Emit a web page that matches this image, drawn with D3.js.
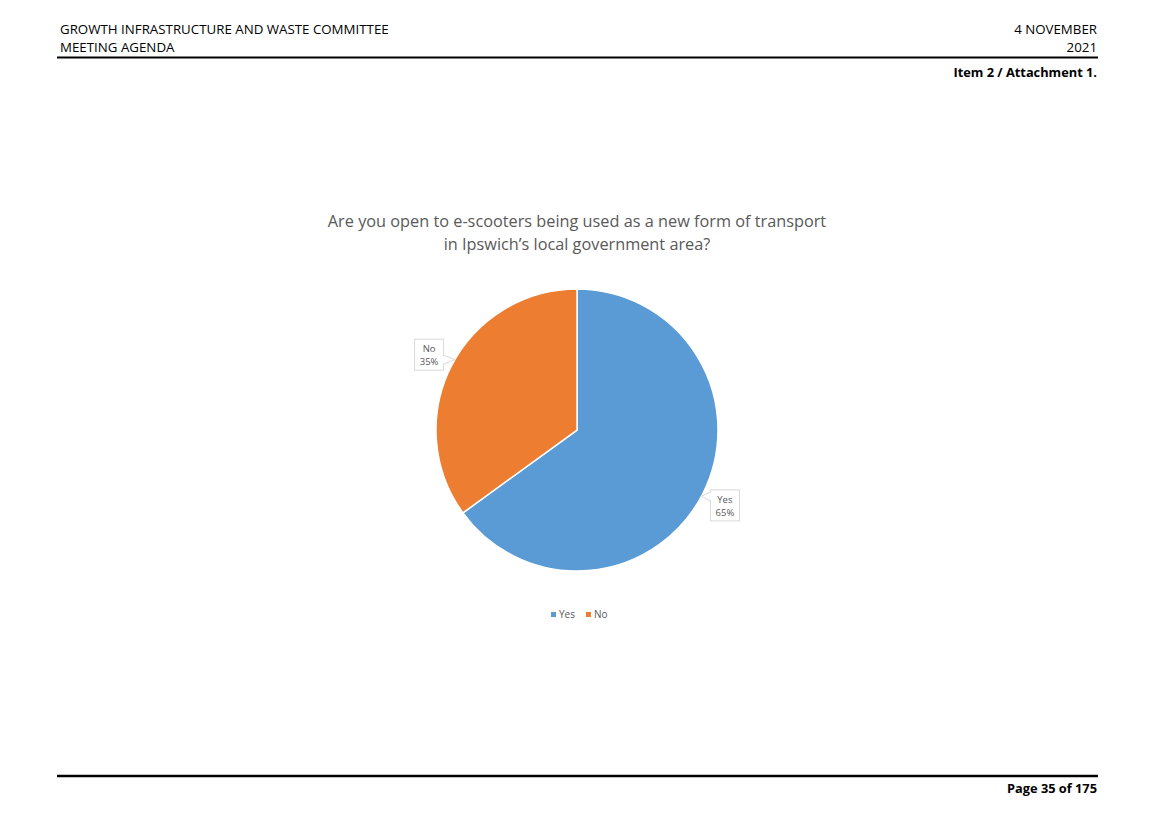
<!DOCTYPE html>
<html>
<head>
<meta charset="utf-8">
<script src="https://d3js.org/d3.v7.min.js"></script>
<style>
  body { margin: 0; background: #fff; }
  text { font-family: "Open Sans", "Liberation Sans", sans-serif; }
</style>
</head>
<body>
<script>
// Data
const categories = ["Yes", "No"];
const shares = [65, 35];
const colors = ["#5b9bd5", "#ed7d31"];

const title = ["Are you open to e-scooters being used as a new form of transport",
               "in Ipswich\u2019s local government area?"];

const width = 1155, height = 816;

const svg = d3.select("body").append("svg")
    .attr("width", width)
    .attr("height", height);

// Page header
svg.append("text").attr("x", 60).attr("y", 34).attr("font-size", 13.3).attr("fill", "#000")
    .text("GROWTH INFRASTRUCTURE AND WASTE COMMITTEE");
svg.append("text").attr("x", 60).attr("y", 52).attr("font-size", 13.3).attr("fill", "#000")
    .text("MEETING AGENDA");
svg.append("text").attr("x", 1097).attr("y", 34).attr("font-size", 13.3).attr("text-anchor", "end")
    .text("4 NOVEMBER");
svg.append("text").attr("x", 1097).attr("y", 52).attr("font-size", 13.3).attr("text-anchor", "end")
    .text("2021");
svg.append("line").attr("x1", 57).attr("x2", 1098).attr("y1", 57.5).attr("y2", 57.5)
    .attr("stroke", "#000").attr("stroke-width", 2);
svg.append("text").attr("x", 1097).attr("y", 77).attr("font-size", 12.8).attr("font-weight", "bold")
    .attr("text-anchor", "end").text("Item 2 / Attachment 1.");

// Footer
svg.append("line").attr("x1", 57).attr("x2", 1098).attr("y1", 776).attr("y2", 776)
    .attr("stroke", "#000").attr("stroke-width", 2.5);
svg.append("text").attr("x", 1097).attr("y", 793).attr("font-size", 12.8).attr("font-weight", "bold")
    .attr("text-anchor", "end").text("Page 35 of 175");

// Chart title
svg.append("g").selectAll("text")
    .data(title).enter()
    .append("text")
    .attr("x", 577)
    .attr("y", (d, i) => 227 + i * 23)
    .attr("text-anchor", "middle")
    .attr("font-size", 16.3)
    .attr("fill", "#595959")
    .text(d => d);

// Pie
const cx = 577, cy = 430, radius = 141;
const data = categories.map((c, i) => ({ name: c, value: shares[i], color: colors[i] }));

const pie = d3.pie().sort(null).value(d => d.value);
const arc = d3.arc().innerRadius(0).outerRadius(radius);
const arcs = pie(data);

let plot = svg.append("g").attr("transform", "translate(" + cx + "," + cy + ")");

plot.selectAll("path")
    .data(arcs).enter()
    .append("path")
    .attr("d", arc)
    .attr("fill", d => d.data.color)
    .attr("stroke", "#fff")
    .attr("stroke-width", 1.5);

// Data callouts along the slice middle, just outside the pie
const labelArc = d3.arc().innerRadius(radius + 25).outerRadius(radius + 25);
const boxW = 29, boxH = 31;

arcs.forEach(d => {
    const [bx, by] = labelArc.centroid(d);
    const left = bx < 0;
    const x0 = bx - boxW / 2;
    const y0 = by - boxH / 2;
    const g = plot.append("g");
    // pointer on the side facing the pie, tip touching the pie edge
    const px = left ? x0 + boxW : x0;
    const pyA = by < 0 ? y0 + boxH - 15 : y0 + 2;
    const pyB = pyA + 9;
    const ty = (pyA + pyB) / 2;
    const tx = (left ? -1 : 1) * Math.sqrt(radius * radius - ty * ty);
    g.append("path")
        .attr("d", "M" + px + "," + pyA + "L" + tx + "," + ty + "L" + px + "," + pyB + "Z")
        .attr("fill", "#fff").attr("stroke", "#d9d9d9").attr("stroke-width", 1);
    g.append("rect")
        .attr("x", x0).attr("y", y0).attr("width", boxW).attr("height", boxH)
        .attr("fill", "#fff").attr("stroke", "#d9d9d9").attr("stroke-width", 1);
    g.append("line")
        .attr("x1", px).attr("x2", px).attr("y1", pyA + 0.8).attr("y2", pyB - 0.8)
        .attr("stroke", "#fff").attr("stroke-width", 1.5);
    g.append("text")
        .attr("x", x0 + boxW / 2).attr("y", y0 + 13)
        .attr("text-anchor", "middle").attr("font-size", 9.5).attr("fill", "#595959")
        .text(d.data.name);
    g.append("text")
        .attr("x", x0 + boxW / 2).attr("y", y0 + 26)
        .attr("text-anchor", "middle").attr("font-size", 9.5).attr("fill", "#595959")
        .text(d.data.value + "%");
});

// Legend
const legendX = d3.scalePoint().domain(categories).range([551, 586]);
let legend = svg.append("g").selectAll("g")
    .data(data).enter()
    .append("g")
    .attr("transform", d => "translate(" + legendX(d.name) + ",618)");
legend.append("rect")
    .attr("x", 0).attr("y", -6).attr("width", 5).attr("height", 5)
    .attr("fill", d => d.color);
legend.append("text")
    .attr("x", 8).attr("y", 0)
    .attr("font-size", 10).attr("fill", "#595959")
    .text(d => d.name);
</script>
</body>
</html>
